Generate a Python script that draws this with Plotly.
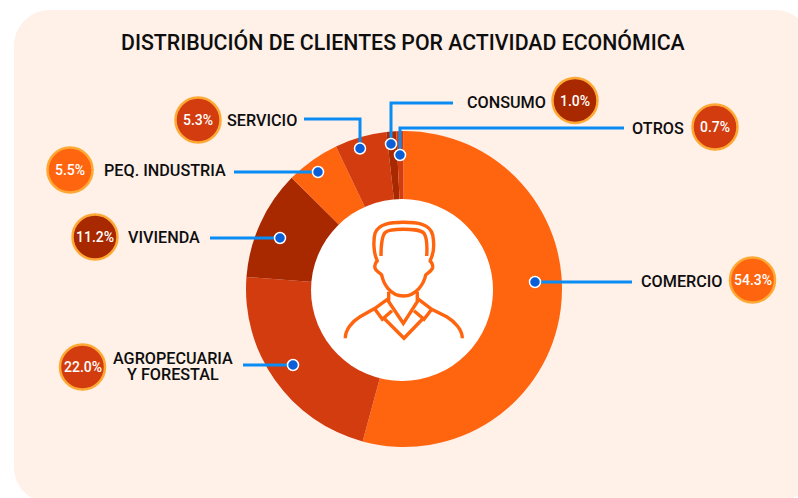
import plotly.graph_objects as go

W, H = 798, 498
CX, CY, R = 404, 289, 158

categories = ["COMERCIO", "AGROPECUARIA<br>Y FORESTAL", "VIVIENDA", "PEQ. INDUSTRIA", "SERVICIO", "CONSUMO", "OTROS"]
values = [54.3, 22.0, 11.2, 5.5, 5.3, 1.0, 0.7]
colors = ["#FF640F", "#D23C0F", "#A82800", "#FF640F", "#D23C0F", "#A82800", "#D23C0F"]
badge_xy = [(752.5, 280), (82.5, 367), (95, 237), (70, 170), (198, 120), (575, 100.5), (715, 127)]
label_xy = [(681.5, 281), (172.5, 366), (163.5, 237), (164.5, 170), (262, 120), (506, 102), (658, 128)]
leaders = [
    [(632, 282), (535, 282)],
    [(243, 365), (293, 365)],
    [(210, 238), (280, 238)],
    [(234, 172), (318, 172)],
    [(304, 119), (360, 119), (360, 148.5)],
    [(453, 103), (391, 103), (391, 144)],
    [(624, 128), (400, 128), (400, 155)],
]
title = "DISTRIBUCIÓN DE CLIENTES POR ACTIVIDAD ECONÓMICA"

INK = "#0E0E0E"
BLUE = "#0A8CF5"
FONT = "Roboto"
LINE_GAP = 16

fig = go.Figure()
fig.add_trace(go.Pie(
    values=values, labels=[c.replace("<br>", " ") for c in categories], sort=False, direction="clockwise",
    rotation=-0.3, hole=0.56, textinfo="none", hoverinfo="label+percent", showlegend=False,
    marker=dict(colors=colors, line=dict(width=0)),
    domain=dict(x=[(CX - R) / W, (CX + R) / W], y=[1 - (CY + R) / H, 1 - (CY - R) / H]),
))

shapes = []


def rrect(x0, y0, x1, y1, r):
    k = r * 0.448
    return (f"M{x0 + r},{y0} L{x1 - r},{y0} C{x1 - k},{y0} {x1},{y0 + k} {x1},{y0 + r} L{x1},{y1 - r} "
            f"C{x1},{y1 - k} {x1 - k},{y1} {x1 - r},{y1} L{x0 + r},{y1} C{x0 + k},{y1} {x0},{y1 - k} {x0},{y1 - r} "
            f"L{x0},{y0 + r} C{x0},{y0 + k} {x0 + k},{y0} {x0 + r},{y0} Z")


def circle(cx, cy, r, fill, line=None, lw=0, layer="above"):
    shapes.append(dict(type="circle", xref="x", yref="y", x0=cx - r, x1=cx + r, y0=cy - r, y1=cy + r,
                       fillcolor=fill, line=dict(color=line or fill, width=lw), layer=layer))


shapes.append(dict(type="path", xref="x", yref="y", path=rrect(14, 10, 811, 503, 36), fillcolor="#FFF0E8",
                   line=dict(width=0), layer="below"))
circle(402, 290, 91, "#FFFFFF")


# person icon, drawn in a local 3x space
def Z(s):
    out = []
    for tok in s.split():
        if "," in tok:
            a, b = tok.split(",")
            out.append(f"{320 + float(a) / 3:.1f},{190 + float(b) / 3:.1f}")
        else:
            out.append(tok)
    return " ".join(out)


icon = [
    "M 172,212 C 160,190 160,150 165,130 C 175,100 215,97 250,97 C 290,97 330,100 338,135 C 343,160 342,190 330,212",
    "M 183,198 C 183,170 185,140 195,128 C 205,118 230,118 250,118 C 275,118 300,118 312,130 C 322,145 322,170 320,198",
    "M 175,210 C 169,215 162,220 165,235 C 168,245 180,248 185,255 C 190,280 210,318 250,318 C 290,318 312,280 317,255 C 322,248 335,245 338,232 C 340,222 333,215 328,210",
    "M 206,305 L 206,335 L 250,400 L 292,335 L 292,305",
    "M 76,445 C 76,420 95,395 120,380 L 165,355 L 206,325",
    "M 427,445 C 427,420 405,395 380,380 L 335,358 L 292,325",
    "M 165,358 L 187,388 L 216,362",
    "M 335,358 L 312,388 L 282,362",
    "M 192,385 L 252,445 L 310,385",
]
for p in icon:
    shapes.append(dict(type="path", xref="x", yref="y", path=Z(p), line=dict(color="#FF640F", width=3.4), layer="above"))

for pts in leaders:
    path = "M" + " L".join(f"{x},{y}" for x, y in pts)
    shapes.append(dict(type="path", xref="x", yref="y", path=path, line=dict(color=BLUE, width=3), layer="above"))
    circle(pts[-1][0], pts[-1][1], 5.5, "#0A5FD8", "#FFFFFF", 1.5)

ann = [dict(x=403, y=42, xref="x", yref="y", text=title, showarrow=False,
            font=dict(family=FONT, size=21.3, color=INK, weight=500))]
for cat, val, col, (bx, by), (lx, ly) in zip(categories, values, colors, badge_xy, label_xy):
    circle(bx, by, 22.5, col, "#FFA833", 2.5)
    lines = cat.split("<br>")
    for i, line in enumerate(lines):
        ann.append(dict(x=lx, y=ly + (i - (len(lines) - 1) / 2) * LINE_GAP, xref="x", yref="y", text=line,
                        showarrow=False, align="center", height=15, borderpad=0, valign="middle",
                        font=dict(family=FONT, size=16.2, color=INK, weight=500)))
    ann.append(dict(x=bx, y=by, xref="x", yref="y", text=f"{val:.1f}%", showarrow=False,
                    font=dict(family=FONT, size=14, color="#FFFFFF", weight=500)))

fig.update_layout(
    width=W, height=H, margin=dict(l=0, r=0, t=0, b=0), paper_bgcolor="#FFFFFF", plot_bgcolor="rgba(0,0,0,0)",
    xaxis=dict(range=[0, W], visible=False, fixedrange=True),
    yaxis=dict(range=[H, 0], visible=False, fixedrange=True),
    shapes=shapes, annotations=ann,
)
fig.write_html("out.html", post_script="document.body.style.margin='0';", config={"displayModeBar": False})
